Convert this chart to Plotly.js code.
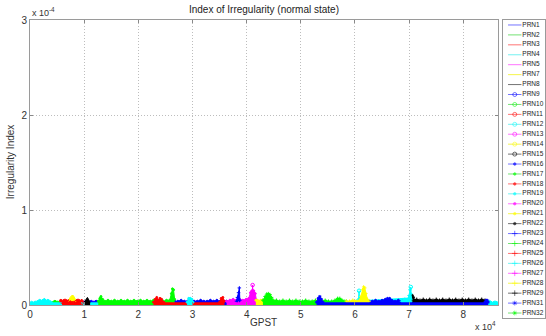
<!DOCTYPE html>
<html><head><meta charset="utf-8">
<script src="https://cdn.plot.ly/plotly-3.0.1.min.js"></script>
<style>html,body{margin:0;padding:0;background:#fff}#chart{width:546px;height:336px}</style>
</head><body><div id="chart"></div>
<script>
// ---- data: GPST seconds, irregularity index in units of 1e-4 ----
const PRN1_T = [9800,10100,10400,10700,11000,11300,11600,11900,12200,12500,12700];
const PRN1_V = [0.04,0.04,0.05,0.04,0.04,0.05,0.04,0.04,0.05,0.04,0.04];
const PRN2_T = [4000,4300,4600,4900,5200,5500];
const PRN2_V = [0.03,0.04,0.05,0.04,0.04,0.03];
const PRN3_T = [5400,5700,6000,6300,6600,6900,7200,7500,7800,8100,8400,8700,9000,9300,9600,9900];
const PRN3_V = [0.05,0.06,0.05,0.06,0.06,0.05,0.06,0.06,0.05,0.06,0.05,0.06,0.06,0.05,0.06,0.04];
const PRN4_T = [0,300,600,900,1200,1500,1800,2100,2400,2700,3000,3300,3600,3900,4200,null,84200,84500,84800,85100,85400,85700,86000,86400];
const PRN4_V = [0.03,0.04,0.03,0.04,0.04,0.05,0.06,0.05,0.06,0.07,0.05,0.06,0.05,0.04,0.03,null,0.03,0.04,0.05,0.04,0.03,0.04,0.04,0.03];
const PRN5_T = [37000,38000,39000,40000];
const PRN5_V = [0.02,0.03,0.02,0.02];
const PRN7_T = [7100,7400,7700,8000,8300,8500];
const PRN7_V = [0.04,0.08,0.10,0.10,0.07,0.04];
const PRN8_T = [10000,10300,10600,10900,11100];
const PRN8_V = [0.03,0.06,0.08,0.05,0.03];
const PRN9_T = [28000,29000,30000,31000,32000,33000,34000];
const PRN9_V = [0.02,0.01,0.02,0.02,0.01,0.02,0.02];
const PRN10_T = [14000,15000,16000,17000,18000,19000,20000];
const PRN10_V = [0.02,0.02,0.01,0.02,0.02,0.01,0.02];
const PRN11_T = [6500,7000,7500,8000,8500,9000,9500];
const PRN11_V = [0.02,0.03,0.02,0.02,0.03,0.02,0.02];
const PRN12_T = [60650,60750,60850,null,70200,70300,70400];
const PRN12_V = [0.05,0.15,0.05,null,0.08,0.19,0.08];
const PRN13_T = [40200,40500,40800,null,41050,41100,41150];
const PRN13_V = [0.03,0.04,0.04,null,0.14,0.21,0.14];
const PRN14_T = [59000,59500,60000,60500,61000];
const PRN14_V = [0.02,0.02,0.03,0.02,0.02];
const PRN15_T = [72000,73000,74000,75000,76000,77000,78000,79000,80000];
const PRN15_V = [0.02,0.03,0.02,0.02,0.03,0.02,0.02,0.03,0.02];
const PRN16_T = [26700,27300,27900,28500,29100,29700,30300,30900,31500,32100,32700,33300,33900,34500,35100,35700,36300,null,62600,63200,63800,64400,65000,65600,66000,66400,66800,67400,68000,68700];
const PRN16_V = [0.04,0.04,0.05,0.04,0.04,0.05,0.04,0.04,0.05,0.04,0.04,0.05,0.04,0.05,0.04,0.04,0.04,null,0.04,0.04,0.05,0.04,0.05,0.06,0.07,0.07,0.05,0.04,0.05,0.04];
const PRN17_T = [12600,12900,13100,13400,13800,14400,15000,15600,16200,16800,17400,18000,18600,19200,19800,20400,21000,21600,22200,22800,23400,24000,24600,25200,25800,26100,26300,26500,26700];
const PRN17_V = [0.04,0.07,0.09,0.06,0.04,0.05,0.04,0.05,0.04,0.05,0.04,0.05,0.04,0.05,0.04,0.05,0.04,0.05,0.04,0.05,0.04,0.05,0.04,0.05,0.05,0.12,0.17,0.16,0.06];
const PRN18_T = [22800,23100,23400,23700,24000,24300,24700,null,35000,35300,35600,35900];
const PRN18_V = [0.03,0.06,0.08,0.05,0.07,0.06,0.03,null,0.03,0.07,0.08,0.04];
const PRN19_T = [29000,29300,29600,29900,30100];
const PRN19_V = [0.03,0.07,0.07,0.06,0.03];
const PRN20_T = [36300,36900,37500,38100,38700,39300,39900,40400,40700,41000,41300,41600,41800];
const PRN20_V = [0.04,0.05,0.06,0.05,0.06,0.05,0.06,0.07,0.13,0.15,0.15,0.12,0.05];
const PRN21_T = [41700,42000,42300,42600,42900,43100];
const PRN21_V = [0.05,0.05,0.04,0.05,0.05,0.04];
const PRN22_T = [70400,70600,70800,71000];
const PRN22_V = [0.04,0.10,0.08,0.05];
const PRN23_T = [38100,38300,38500,38650,38750];
const PRN23_V = [0.04,0.08,0.13,0.18,0.05];
const PRN24_T = [43000,43400,43700,44000,44300,44600,44900,45500,46100,46700,47300,47900,48500,49100,49700,50300,50900,51500,52100,52700,53300,53900,54500,55100,55700,56300,56800,57200,57600,58000,58400];
const PRN24_V = [0.05,0.09,0.115,0.12,0.11,0.08,0.05,0.05,0.04,0.05,0.04,0.05,0.04,0.05,0.04,0.04,0.05,0.04,0.04,0.05,0.04,0.04,0.05,0.04,0.04,0.05,0.07,0.07,0.05,0.04,0.04];
const PRN25_T = [6000,6500,7000,7500,8000,8500,9000];
const PRN25_V = [0.02,0.03,0.02,0.03,0.02,0.02,0.03];
const PRN26_T = [68600,68900,69200,69500,69800,70000,70150,70300,70500];
const PRN26_V = [0.04,0.05,0.06,0.05,0.06,0.10,0.16,0.12,0.05];
const PRN27_T = [37500,38500,39500,40500];
const PRN27_V = [0.03,0.02,0.03,0.02];
const PRN28_T = [58400,59000,59600,60200,60800,61100,61400,61600,61800,62000,62300,62600];
const PRN28_V = [0.04,0.04,0.05,0.04,0.05,0.09,0.16,0.19,0.18,0.12,0.06,0.04];
const PRN29_T = [70800,71400,72000,72600,73200,73800,74400,75000,75600,76200,76800,77400,78000,78600,79200,79800,80400,81000,81600,82200,82800,83400,84000,84300];
const PRN29_V = [0.05,0.06,0.05,0.06,0.05,0.06,0.05,0.06,0.05,0.06,0.05,0.06,0.05,0.06,0.05,0.06,0.05,0.06,0.05,0.06,0.05,0.06,0.05,0.04];
const PRN31_T = [52900,53200,53500,53800,54100,null,84000,84200,84400,84600];
const PRN31_V = [0.03,0.07,0.09,0.06,0.03,null,0.03,0.05,0.05,0.03];
const PRN32_T = [45000,46000,47000,48000,49000,50000,51000,52000];
const PRN32_V = [0.02,0.03,0.02,0.02,0.03,0.02,0.02,0.03];

const prnNames = ['PRN1','PRN2','PRN3','PRN4','PRN5','PRN7','PRN8','PRN9','PRN10','PRN11','PRN12','PRN13','PRN14','PRN15','PRN16','PRN17','PRN18','PRN19','PRN20','PRN21','PRN22','PRN23','PRN24','PRN25','PRN26','PRN27','PRN28','PRN29','PRN31','PRN32'];
const prnT = [PRN1_T,PRN2_T,PRN3_T,PRN4_T,PRN5_T,PRN7_T,PRN8_T,PRN9_T,PRN10_T,PRN11_T,PRN12_T,PRN13_T,PRN14_T,PRN15_T,PRN16_T,PRN17_T,PRN18_T,PRN19_T,PRN20_T,PRN21_T,PRN22_T,PRN23_T,PRN24_T,PRN25_T,PRN26_T,PRN27_T,PRN28_T,PRN29_T,PRN31_T,PRN32_T];
const prnV = [PRN1_V,PRN2_V,PRN3_V,PRN4_V,PRN5_V,PRN7_V,PRN8_V,PRN9_V,PRN10_V,PRN11_V,PRN12_V,PRN13_V,PRN14_V,PRN15_V,PRN16_V,PRN17_V,PRN18_V,PRN19_V,PRN20_V,PRN21_V,PRN22_V,PRN23_V,PRN24_V,PRN25_V,PRN26_V,PRN27_V,PRN28_V,PRN29_V,PRN31_V,PRN32_V];
const xTickVals = [0,10000,20000,30000,40000,50000,60000,70000,80000];
const xTickText = ['0','1','2','3','4','5','6','7','8'];
const yTickVals = [0,1,2,3];
const yTickText = ['0','1','2','3'];

// ---- styles ----
const cycleColors = ['#0000ff','#00ff00','#ff0000','#00ffff','#ff00ff','#ffff00','#000000'];
const legendColors = ['rgba(0,0,255,0.55)','rgba(0,200,0,0.55)','rgba(255,0,0,0.55)','rgba(0,230,230,0.55)','rgba(255,0,255,0.55)','rgba(240,240,0,0.7)','rgba(0,0,0,0.55)'];
const symbolGroups = [null, {s:'circle-open', z:4, d:3.5}, {s:'circle', z:2.5, d:2}, {s:'cross-thin-open', z:4, d:2.5}, {s:'asterisk-open', z:4, d:2.5}];
const FONT = 'Liberation Sans, Arial, sans-serif';

const traces = [];
prnNames.forEach((nm, i) => {
  const col = cycleColors[i % 7];
  const sg = symbolGroups[Math.floor(i / 7)];
  const tr = {
    type: 'scatter', x: prnT[i], y: prnV[i], xaxis: 'x', yaxis: 'y',
    mode: sg ? 'lines+markers' : 'lines', name: nm, showlegend: false, hoverinfo: 'skip',
    line: {color: col, width: 1}, fill: 'tozeroy', fillcolor: col
  };
  if (sg) tr.marker = {symbol: sg.s, size: sg.d, color: col, line: {color: col, width: 1}};
  traces.push(tr);
});
// legend drawn on its own small axes
prnNames.forEach((nm, i) => {
  const col = cycleColors[i % 7];
  const sg = symbolGroups[Math.floor(i / 7)];
  const tr = {
    type: 'scatter', x: [0.12, 0.28, 0.44], y: [i + 1, i + 1, i + 1], xaxis: 'x2', yaxis: 'y2',
    mode: sg ? 'lines+markers' : 'lines', showlegend: false, hoverinfo: 'skip',
    line: {color: legendColors[i % 7], width: 1}
  };
  if (sg) tr.marker = {symbol: sg.s, size: [0, sg.z, 0], color: col, line: {color: col, width: 0.8}};
  traces.push(tr);
});
traces.push({
  type: 'scatter', mode: 'text', xaxis: 'x2', yaxis: 'y2', showlegend: false, hoverinfo: 'skip',
  cliponaxis: false,
  x: prnNames.map(() => 0.46), y: prnNames.map((n, i) => i + 1), text: prnNames,
  textposition: 'middle right', textfont: {family: FONT, size: 6.5, color: '#222'}
});

const axBase = {
  ticks: 'inside', ticklen: 3, tickcolor: '#888', showline: true, linecolor: '#9a9a9a', linewidth: 1,
  mirror: 'ticks', showgrid: true, gridcolor: '#bdbdbd', griddash: '1px,2px', gridwidth: 1, zeroline: false,
  tickfont: {family: FONT, size: 10, color: '#333'}, fixedrange: true
};
const layout = {
  width: 546, height: 336,
  margin: {l: 30, r: 1, t: 20, b: 18},
  paper_bgcolor: '#fff', plot_bgcolor: 'rgba(0,0,0,0)',
  font: {family: FONT, color: '#333'},
  title: {text: 'Index of Irregularity (normal state)', font: {family: FONT, size: 10, color: '#222'},
          x: 0.4835, xanchor: 'center', xref: 'container', y: 0.973, yref: 'container', yanchor: 'middle'},
  xaxis: Object.assign({}, axBase, {domain: [0, 0.9087], range: [0, 86400], tickmode: 'array',
          tickvals: xTickVals, ticktext: xTickText, anchor: 'y'}),
  yaxis: Object.assign({}, axBase, {domain: [0.0436, 1], range: [0, 3], tickmode: 'array',
          tickvals: yTickVals, ticktext: yTickText, anchor: 'x'}),
  xaxis2: {domain: [0.9184, 1], range: [0, 1], anchor: 'y2', showline: true, mirror: true, linecolor: '#9a9a9a',
           showgrid: false, zeroline: false, showticklabels: false, ticks: '', fixedrange: true},
  yaxis2: {domain: [0, 1], range: [30.5, 0.5], anchor: 'x2', showline: true, mirror: true, linecolor: '#9a9a9a',
           showgrid: false, zeroline: false, showticklabels: false, ticks: '', fixedrange: true},
  annotations: [
    {text: 'x 10<sup>-4</sup>', xref: 'x', yref: 'y', x: 0, y: 3, xanchor: 'left', yanchor: 'bottom',
     showarrow: false, font: {family: FONT, size: 9, color: '#333'}},
    {text: 'x 10<sup>4</sup>', xref: 'x', yref: 'paper', x: 86400, y: -0.027, xanchor: 'right', yanchor: 'middle',
     showarrow: false, font: {family: FONT, size: 9, color: '#333'}},
    {text: 'GPST', xref: 'paper', yref: 'paper', x: 0.454, y: -0.015, xanchor: 'center', yanchor: 'middle',
     showarrow: false, font: {family: FONT, size: 10, color: '#333'}},
    {text: 'Irregularity Index', xref: 'paper', yref: 'paper', x: -0.0388, y: 0.523, xanchor: 'center', yanchor: 'middle',
     textangle: -90, showarrow: false, font: {family: FONT, size: 10, color: '#333'}}
  ]
};
Plotly.newPlot('chart', traces, layout, {displayModeBar: false, staticPlot: true});
</script></body></html>
